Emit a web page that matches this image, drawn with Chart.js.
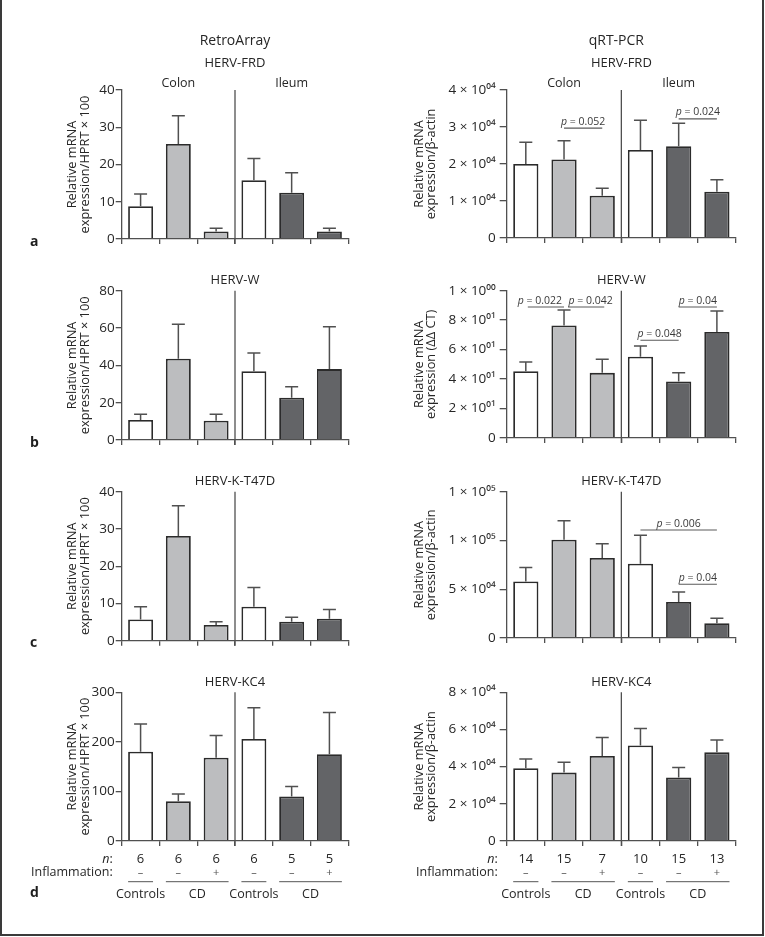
<!DOCTYPE html>
<html><head><meta charset="utf-8">
<script src="https://cdn.jsdelivr.net/npm/chart.js@4.4.1/dist/chart.umd.min.js"></script>
<style>
html,body{margin:0;padding:0;background:#fff;}
#wrap{position:relative;width:765px;height:937px;overflow:hidden;background:#fff;}
#frame{position:absolute;left:0;top:-3px;width:760px;height:937px;border:2px solid #3a3a3a;border-top:none;}
canvas{position:absolute;}
</style></head>
<body><div id="wrap"><div id="frame"></div>
<canvas id="c0"></canvas><canvas id="c1"></canvas><canvas id="c2"></canvas><canvas id="c3"></canvas>
<canvas id="c4"></canvas><canvas id="c5"></canvas><canvas id="c6"></canvas><canvas id="c7"></canvas>
</div>
<script>
// ---------- data ----------
const categories = ['Colon Controls', 'Colon CD –', 'Colon CD +', 'Ileum Controls', 'Ileum CD –', 'Ileum CD +'];
const inflammation = ['–', '–', '+', '–', '–', '+'];
const nRetro = ['6', '6', '6', '6', '5', '5'];
const nQpcr = ['14', '15', '7', '10', '15', '13'];
const groupLabels = ['Controls', 'CD', 'Controls', 'CD'];
const groupSpans = [[0, 0], [1, 2], [3, 3], [4, 5]];

const retroFRD = [8.8, 25.5, 2.0, 15.8, 12.4, 2.0];
const retroFRDerr = [3.3, 7.6, 0.9, 5.8, 5.4, 0.9];
const qpcrFRD = [20000, 21200, 11400, 23800, 24800, 12500];
const qpcrFRDerr = [5900, 5100, 2000, 8000, 6200, 3200];

const retroW = [10.7, 43.6, 10.3, 36.8, 22.7, 38.0];
const retroWerr = [3.1, 18.4, 3.5, 9.8, 5.9, 22.7];
const qpcrW = [0.453, 0.764, 0.442, 0.551, 0.384, 0.719];
const qpcrWerr = [0.063, 0.105, 0.092, 0.074, 0.058, 0.143];

const retroK = [5.7, 28.1, 4.2, 9.1, 5.1, 5.9];
const retroKerr = [3.4, 8.1, 0.9, 5.2, 1.2, 2.5];
const qpcrK = [57800, 100700, 81900, 76200, 36900, 15100];
const qpcrKerr = [14400, 19500, 14700, 29200, 10100, 5000];

const retroKC4 = [180, 80, 168, 206, 90, 175];
const retroKC4err = [56, 15, 45, 63, 20, 84];
const qpcrKC4 = [39100, 36800, 45700, 51400, 34100, 47700];
const qpcrKC4err = [5000, 5500, 10000, 9100, 5400, 6600];

const ticksRetroFRD = ['0', '10', '20', '30', '40'];
const ticksRetroW = ['0', '20', '40', '60', '80'];
const ticksRetroK = ['0', '10', '20', '30', '40'];
const ticksRetroKC4 = ['0', '100', '200', '300'];
const ticksQpcrFRD = ['0', '1 × 10⁰⁴', '2 × 10⁰⁴', '3 × 10⁰⁴', '4 × 10⁰⁴'];
const ticksQpcrW = ['0', '2 × 10⁰¹', '4 × 10⁰¹', '6 × 10⁰¹', '8 × 10⁰¹', '1 × 10⁰⁰'];
const ticksQpcrK = ['0', '5 × 10⁰⁴', '1 × 10⁰⁵', '1 × 10⁰⁵'];
const ticksQpcrKC4 = ['0', '2 × 10⁰⁴', '4 × 10⁰⁴', '6 × 10⁰⁴', '8 × 10⁰⁴'];

// significance brackets: [fromIndex, toIndex, level (data units), p label]
const sigFRD = [[1, 2, 29700, '0.052'], [4, 5, 32200, '0.024']];
const sigW = [[0, 1, 0.889, '0.022'], [1, 2, 0.889, '0.042'], [3, 4, 0.663, '0.048'], [4, 5, 0.889, '0.04']];
const sigK = [[3, 5, 110700, '0.006'], [4, 5, 55100, '0.04']];

// ---------- style ----------
const FONT = '"Open Sans", "Noto Sans", "DejaVu Sans", sans-serif';
const TXT = '#262626';
const AX = '#505050';
const fills = ['#ffffff', '#bcbdbf', '#bcbdbf', '#ffffff', '#636467', '#636467'];
// per-bracket layout tweaks for panel b (qRT-PCR): [startInset, endInset, labelShift]
const sigWLayout = [[2, 0, -6], [4, 2, 4.5], [0, 0, 0], [0, 0, 0]];

const decor = {
  id: 'decor',
  afterDatasetsDraw(chart, args, o) {
    const ctx = chart.ctx, xs = chart.scales.x, ys = chart.scales.y, ca = chart.chartArea;
    const meta = chart.getDatasetMeta(0), ds = chart.data.datasets[0];
    ctx.save();
    // error bars
    ctx.strokeStyle = AX; ctx.lineWidth = 1.5;
    meta.data.forEach((bar, i) => {
      const top = ys.getPixelForValue(ds.data[i] + ds.errors[i]);
      ctx.beginPath();
      ctx.moveTo(bar.x, bar.y); ctx.lineTo(bar.x, top);
      ctx.moveTo(bar.x - 6.5, top); ctx.lineTo(bar.x + 6.5, top);
      ctx.stroke();
    });
    // divider colon / ileum
    const divX = (xs.getPixelForValue(2) + xs.getPixelForValue(3)) / 2;
    ctx.lineWidth = 1.3; ctx.strokeStyle = AX;
    ctx.beginPath(); ctx.moveTo(divX, ca.top); ctx.lineTo(divX, ca.bottom + 5); ctx.stroke();
    // headings
    ctx.fillStyle = TXT; ctx.textAlign = 'center'; ctx.textBaseline = 'middle';
    (o.headings || []).forEach(h => {
      const hx = (h.at === 'div' ? divX : xs.getPixelForValue(h.at)) + (h.dx || 0);
      ctx.font = `${h.size}px ${FONT}`;
      ctx.fillText(h.text, hx, ca.top + h.dy);
    });
    // significance brackets
    (o.sig || []).forEach((s, k) => {
      const lay = (o.sigLayout && o.sigLayout[k]) || [0, 0, 0];
      const x1 = xs.getPixelForValue(s[0]) + lay[0], x2 = xs.getPixelForValue(s[1]) + lay[1];
      const ly = ys.getPixelForValue(s[2]);
      ctx.strokeStyle = '#5a5a5a'; ctx.lineWidth = 1.1;
      ctx.beginPath(); ctx.moveTo(x1, ly); ctx.lineTo(x2, ly); ctx.stroke();
      ctx.fillStyle = '#3a3a3a'; ctx.textBaseline = 'alphabetic'; ctx.textAlign = 'left';
      const fi = `italic 10.5px ${FONT}`, fn = `10.5px ${FONT}`;
      ctx.font = fi; const wp = ctx.measureText('p').width;
      const rest = ' = ' + s[3];
      ctx.font = fn; const wr = ctx.measureText(rest).width;
      const sx = (x1 + x2) / 2 + lay[2] - (wp + wr) / 2;
      ctx.font = fi; ctx.fillText('p', sx, ly - 3.5);
      ctx.font = fn; ctx.fillText(rest, sx + wp, ly - 3.5);
    });
    // panel letter
    if (o.letter) {
      ctx.fillStyle = '#1e1e1e'; ctx.font = `bold 14px ${FONT}`; ctx.textAlign = 'left'; ctx.textBaseline = 'middle';
      ctx.fillText(o.letter, o.letterX, ca.bottom + o.letterDy);
    }
    // footer rows
    if (o.nValues) {
      const rowN = ca.bottom + 18.3, rowI = ca.bottom + 31.7, rowL = ca.bottom + 40.7, rowG = ca.bottom + 53.3;
      const rx = ca.left - 9;
      ctx.fillStyle = TXT; ctx.textBaseline = 'middle';
      ctx.font = `12.5px ${FONT}`; ctx.textAlign = 'right';
      ctx.fillText(':', rx, rowN);
      const wc = ctx.measureText(':').width;
      ctx.font = `italic 12.5px ${FONT}`; ctx.fillText('n', rx - wc, rowN);
      ctx.font = `12.5px ${FONT}`; ctx.fillText('Inflammation:', rx, rowI);
      ctx.textAlign = 'center';
      meta.data.forEach((bar, i) => {
        ctx.font = `13px ${FONT}`; ctx.fillStyle = TXT;
        ctx.fillText(o.nValues[i], bar.x, rowN);
        ctx.font = `11px ${FONT}`; ctx.fillStyle = '#555';
        ctx.fillText(inflammation[i], bar.x, rowI);
      });
      ctx.strokeStyle = '#555'; ctx.lineWidth = 1;
      ctx.font = `12.5px ${FONT}`; ctx.fillStyle = TXT;
      groupSpans.forEach((sp, g) => {
        const a = meta.data[sp[0]], b = meta.data[sp[1]];
        ctx.beginPath(); ctx.moveTo(a.x - a.width / 2, rowL); ctx.lineTo(b.x + b.width / 2, rowL); ctx.stroke();
        ctx.fillText(groupLabels[g], (a.x + b.x) / 2, rowG);
      });
    }
    ctx.restore();
  }
};

function panel(id, box, axis, cfg) {
  const cv = document.getElementById(id);
  cv.width = box.w; cv.height = box.h;
  cv.style.left = box.x + 'px'; cv.style.top = box.y + 'px';
  const titleLH = 12.4;
  new Chart(cv, {
    type: 'bar',
    data: {
      labels: categories,
      datasets: [{
        data: cfg.values, errors: cfg.errors,
        backgroundColor: fills, borderColor: '#2b2b2b', borderWidth: 1.8, borderSkipped: 'bottom',
        barPercentage: 0.66, categoryPercentage: 1
      }]
    },
    options: {
      responsive: false, animation: false, devicePixelRatio: 1,
      layout: { padding: { left: 0, top: axis.top - box.y, right: box.x + box.w - axis.right, bottom: box.y + box.h - axis.bottom - 6 } },
      plugins: {
        legend: { display: false }, tooltip: { enabled: false },
        decor: { headings: cfg.headings, sig: cfg.sig, sigLayout: cfg.sigLayout, letter: cfg.letter, letterX: 30, letterDy: cfg.letterDy || 2.7, nValues: cfg.nValues }
      },
      scales: {
        x: {
          offset: true,
          grid: { offset: true, drawOnChartArea: false, drawTicks: true, tickLength: 5, color: AX, lineWidth: 1.3 },
          border: { color: AX, width: 1.3, z: 1 },
          ticks: { display: false },
          afterFit: s => { s.height = 6; }
        },
        y: {
          min: 0, max: cfg.max,
          ticks: { stepSize: cfg.step, autoSkip: false, callback: (v, i) => cfg.ticks[i], font: { family: FONT, size: 13.5 }, color: TXT, padding: cfg.tickPad },
          grid: { drawOnChartArea: false, tickLength: cfg.tickLen, color: AX, lineWidth: 1.3 },
          border: { color: AX, width: 1.3 },
          title: { display: true, text: cfg.yTitle, color: TXT, font: { family: FONT, size: 12.8, lineHeight: titleLH / 12.8 }, padding: { top: cfg.titleX - box.x - titleLH / 2, bottom: 0 } },
          afterFit: s => { s.width = axis.left - box.x; }
        }
      }
    },
    plugins: [decor]
  });
}

const yRetro = ['Relative mRNA', 'expression/HPRT × 100'];
const yQpcr = ['Relative mRNA', 'expression/β-actin'];
const yQpcrW = ['Relative mRNA', 'expression (ΔΔ CT)'];

const rows = [
  { box: { y: 0, h: 250 }, top: 90, bottom: 239 },
  { box: { y: 250, h: 200 }, top: 290.7, bottom: 440 },
  { box: { y: 450, h: 200 }, top: 491.7, bottom: 640.7 },
  { box: { y: 650, h: 285 }, top: 692.3, bottom: 841 }
];
const L = { x: 0, w: 380, left: 121.7, right: 348.3, titleX: 72.7, tickLen: 6, tickPad: 1 };
const R = { x: 380, w: 385, left: 506.7, right: 736, titleX: 419.3, tickLen: 7, tickPad: 4 };

function mk(id, col, r, cfg) {
  const row = rows[r];
  panel(id, { x: col.x, w: col.w, y: row.box.y, h: row.box.h },
    { left: col.left, right: col.right, top: row.top, bottom: row.bottom },
    Object.assign({ titleX: col.titleX, tickLen: col.tickLen, tickPad: col.tickPad }, cfg));
}

mk('c0', L, 0, { values: retroFRD, errors: retroFRDerr, max: 40, step: 10, ticks: ticksRetroFRD, yTitle: yRetro, letter: 'a',
  headings: [{ text: 'RetroArray', at: 'div', dy: -49.3, size: 14 }, { text: 'HERV-FRD', at: 'div', dy: -26.7, size: 13 },
             { text: 'Colon', at: 1, dy: -6.7, size: 12.5 }, { text: 'Ileum', at: 4, dy: -6.7, size: 12.5 }] });
mk('c1', R, 0, { values: qpcrFRD, errors: qpcrFRDerr, max: 40000, step: 10000, ticks: ticksQpcrFRD, yTitle: yQpcr, sig: sigFRD,
  headings: [{ text: 'qRT-PCR', at: 'div', dx: -5, dy: -49.3, size: 14 }, { text: 'HERV-FRD', at: 'div', dy: -26.7, size: 13 },
             { text: 'Colon', at: 1, dy: -6.7, size: 12.5 }, { text: 'Ileum', at: 4, dy: -6.7, size: 12.5 }] });
mk('c2', L, 1, { values: retroW, errors: retroWerr, max: 80, step: 20, ticks: ticksRetroW, yTitle: yRetro, letter: 'b',
  headings: [{ text: 'HERV-W', at: 'div', dy: -10.7, size: 13 }] });
mk('c3', R, 1, { values: qpcrW, errors: qpcrWerr, max: 1, step: 0.2, ticks: ticksQpcrW, yTitle: yQpcrW,
  sig: sigW, sigLayout: sigWLayout,
  headings: [{ text: 'HERV-W', at: 'div', dy: -10.7, size: 13 }] });
mk('c4', L, 2, { values: retroK, errors: retroKerr, max: 40, step: 10, ticks: ticksRetroK, yTitle: yRetro, letter: 'c',
  headings: [{ text: 'HERV-K-T47D', at: 'div', dy: -10.5, size: 13 }] });
mk('c5', R, 2, { values: qpcrK, errors: qpcrKerr, max: 150000, step: 50000, ticks: ticksQpcrK, yTitle: yQpcr, sig: sigK,
  headings: [{ text: 'HERV-K-T47D', at: 'div', dy: -10.5, size: 13 }] });
mk('c6', L, 3, { values: retroKC4, errors: retroKC4err, max: 300, step: 100, ticks: ticksRetroKC4, yTitle: yRetro, letter: 'd', letterDy: 51.7,
  nValues: nRetro, headings: [{ text: 'HERV-KC4', at: 'div', dy: -9.6, size: 13 }] });
mk('c7', R, 3, { values: qpcrKC4, errors: qpcrKC4err, max: 80000, step: 20000, ticks: ticksQpcrKC4, yTitle: yQpcr,
  nValues: nQpcr, headings: [{ text: 'HERV-KC4', at: 'div', dy: -9.6, size: 13 }] });
</script>
</body></html>
